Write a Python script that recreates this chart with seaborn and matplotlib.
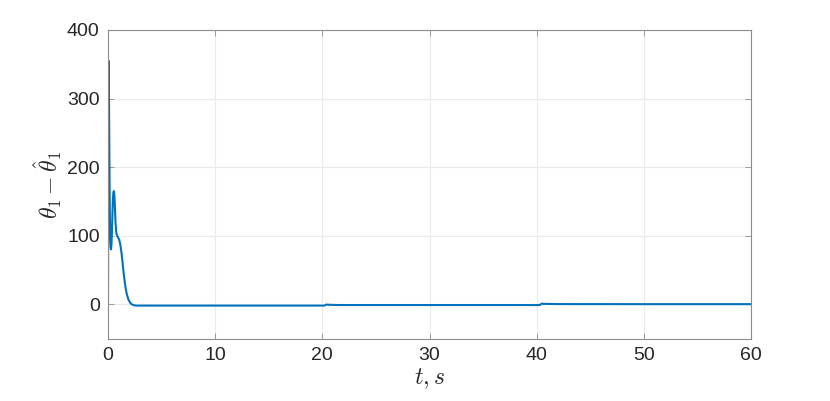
import matplotlib
matplotlib.use("Agg")
import matplotlib.pyplot as plt
import seaborn as sns
import pandas as pd

# Data
time_s = [0.0, 0.02, 0.04, 0.06, 0.08, 0.11, 0.14, 0.17, 0.20, 0.24, 0.28, 0.32,
          0.36, 0.40, 0.45, 0.50, 0.55, 0.60, 0.65, 0.70, 0.75, 0.80, 0.88, 0.95,
          1.05, 1.15, 1.25, 1.35, 1.45, 1.55, 1.65, 1.75, 1.90, 2.05, 2.2, 2.4,
          2.7, 3.0, 4.0, 10.0, 20.2, 20.35, 20.6, 21.5, 30.0, 40.3, 40.45, 40.8,
          42.0, 50.0, 60.0]
error_vals = [8, 150, 300, 355, 330, 260, 190, 135, 100, 84, 80, 86,
              102, 125, 150, 163, 165, 158, 140, 120, 108, 102, 99, 97,
              94, 87, 76, 62, 47, 34, 23, 15, 7, 2.5, 0, -1.5,
              -2, -2, -2, -2, -2, -0.5, -0.8, -1.2, -1.2, -1.2, 0.8, 0.5,
              0.2, 0.1, 0.1]

x_ticks = [0, 10, 20, 30, 40, 50, 60]
y_ticks = [0, 100, 200, 300, 400]

df = pd.DataFrame({"t": time_s, "err": error_vals})

sns.set_theme(style="white")
plt.rcParams["font.family"] = ["Liberation Sans", "DejaVu Sans"]
plt.rcParams["mathtext.fontset"] = "cm"

fig = plt.figure(figsize=(8.3, 4.01), dpi=100)
ax = fig.add_axes([108 / 830, (401 - 338.5) / 401, (751 - 108) / 830, (338.5 - 30) / 401])

sns.lineplot(data=df, x="t", y="err", ax=ax, color="#0072BD", linewidth=1.5)

ax.set_xlim(0, 60)
ax.set_ylim(-50, 400)
ax.set_xticks(x_ticks)
ax.set_yticks(y_ticks)
ax.grid(True, color="#ebebeb", linewidth=0.8)
ax.set_axisbelow(True)
for s in ax.spines.values():
    s.set_visible(True)
    s.set_color("#8c8c8c")
    s.set_linewidth(0.8)
ax.tick_params(direction="in", length=4, width=0.6, color="#8c8c8c",
               labelsize=14, labelcolor="#262626", top=True, right=True,
               left=True, bottom=True, labeltop=False, labelright=False, pad=6)
ax.set_xlabel(r"$t, s$", fontsize=17, color="#262626", labelpad=2)
ax.set_ylabel(r"$\theta_1-\hat{\theta}_1$", fontsize=17, color="#262626", labelpad=2)

fig.savefig("out.png", dpi=100)
